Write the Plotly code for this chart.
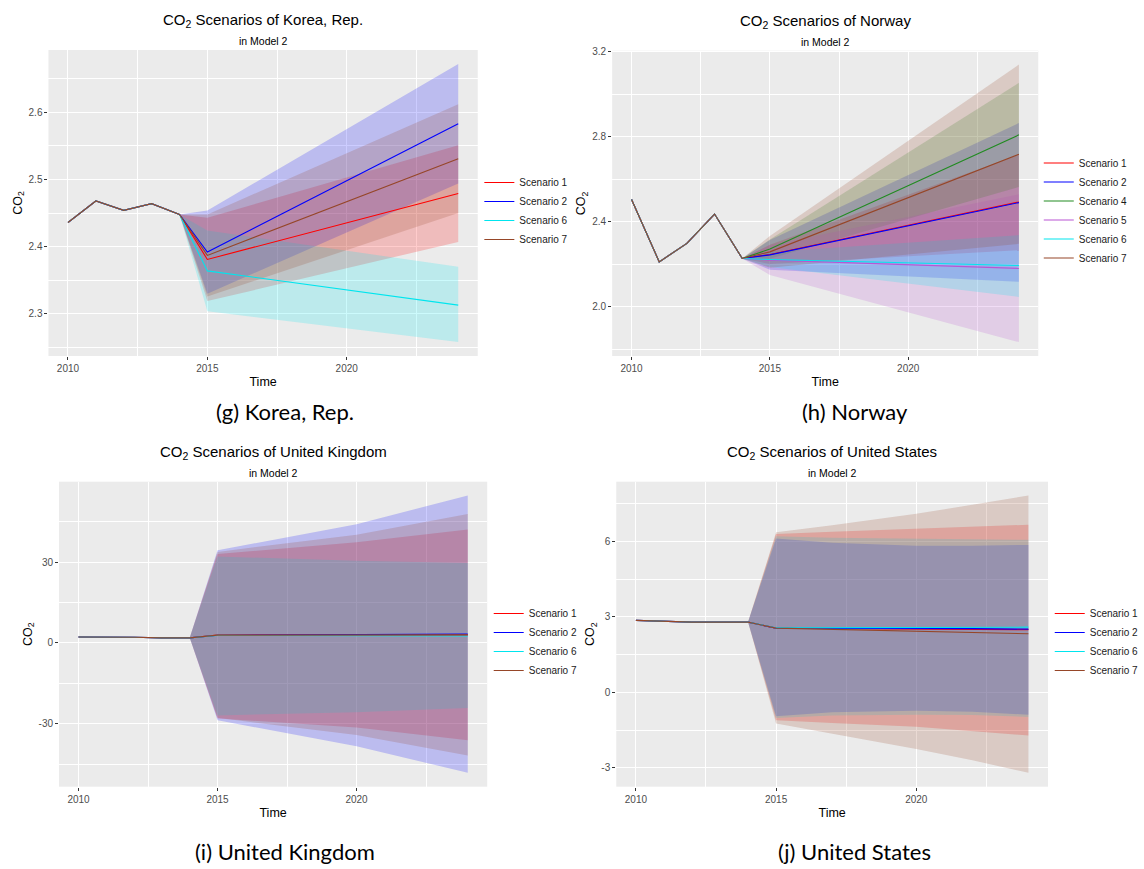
import plotly.graph_objects as go

W, H = 1144, 869
FONT = "Liberation Sans, Arial, sans-serif"
CAP_FONT = "Lato, Open Sans, sans-serif"

hist_years = [2010, 2011, 2012, 2013, 2014]

# ---------------- Korea, Rep. ----------------
kor_hist = [2.436, 2.468, 2.454, 2.464, 2.448]
kor_fc_years = [2015, 2024]
kor_s1_mean = [2.381, 2.479]; kor_s1_lo = [2.319, 2.407]; kor_s1_hi = [2.443, 2.551]
kor_s2_mean = [2.392, 2.583]; kor_s2_lo = [2.330, 2.494]; kor_s2_hi = [2.454, 2.672]
kor_s6_mean = [2.364, 2.313]; kor_s6_lo = [2.304, 2.258]; kor_s6_hi = [2.424, 2.370]
kor_s7_mean = [2.387, 2.531]; kor_s7_lo = [2.326, 2.450]; kor_s7_hi = [2.448, 2.612]
kor_yticks = [2.3, 2.4, 2.5, 2.6]
kor_ylabels = ["2.3", "2.4", "2.5", "2.6"]

# ---------------- Norway ----------------
nor_hist = [2.505, 2.211, 2.298, 2.436, 2.227]
nor_fc_years = [2015, 2024]
nor_s1_mean = [2.246, 2.493]; nor_s1_lo = [2.201, 2.266]; nor_s1_hi = [2.291, 2.716]
nor_s2_mean = [2.244, 2.490]; nor_s2_lo = [2.174, 2.117]; nor_s2_hi = [2.314, 2.865]
nor_s4_mean = [2.271, 2.809]; nor_s4_lo = [2.226, 2.564]; nor_s4_hi = [2.316, 3.054]
nor_s5_mean = [2.219, 2.180]; nor_s5_lo = [2.149, 1.833]; nor_s5_hi = [2.289, 2.529]
nor_s6_mean = [2.222, 2.194]; nor_s6_lo = [2.187, 2.046]; nor_s6_hi = [2.257, 2.337]
nor_s7_mean = [2.258, 2.718]; nor_s7_lo = [2.183, 2.296]; nor_s7_hi = [2.333, 3.140]
nor_yticks = [2.0, 2.4, 2.8, 3.2]
nor_ylabels = ["2.0", "2.4", "2.8", "3.2"]

# ---------------- United Kingdom ----------------
gbr_hist = [2.2, 2.2, 2.1, 1.9, 1.9]
gbr_fc_years = [2015, 2020, 2024]
gbr_s1_mean = [2.9, 3.0, 3.0]; gbr_s1_lo = [-28.0, -31.4, -36.1]; gbr_s1_hi = [33.0, 37.4, 42.1]
gbr_s2_mean = [2.85, 3.1, 3.3]; gbr_s2_lo = [-28.7, -38.3, -48.2]; gbr_s2_hi = [34.4, 44.1, 54.7]
gbr_s6_mean = [2.8, 2.7, 2.6]; gbr_s6_lo = [-26.9, -25.7, -24.1]; gbr_s6_hi = [32.1, 30.5, 29.7]
gbr_s7_mean = [2.9, 3.0, 3.0]; gbr_s7_lo = [-27.8, -34.2, -41.8]; gbr_s7_hi = [33.8, 40.2, 47.9]
gbr_yticks = [-30, 0, 30]
gbr_ylabels = ["-30", "0", "30"]

# ---------------- United States ----------------
usa_hist = [2.86, 2.83, 2.79, 2.79, 2.79]
usa_fc_years = [2015, 2017, 2020, 2022, 2024]
usa_s1_mean = [2.55, 2.54, 2.52, 2.51, 2.49]
usa_s1_lo = [-1.11, -1.22, -1.37, -1.53, -1.72]; usa_s1_hi = [6.29, 6.38, 6.49, 6.57, 6.66]
usa_s2_mean = [2.55, 2.55, 2.54, 2.53, 2.51]
usa_s2_lo = [-0.95, -0.79, -0.73, -0.77, -0.89]; usa_s2_hi = [6.11, 5.94, 5.83, 5.83, 5.86]
usa_s6_mean = [2.56, 2.57, 2.58, 2.59, 2.59]
usa_s6_lo = [-1.02, -0.92, -0.89, -0.90, -0.98]; usa_s6_hi = [6.20, 6.14, 6.11, 6.09, 6.06]
usa_s7_mean = [2.55, 2.50, 2.43, 2.38, 2.33]
usa_s7_lo = [-1.24, -1.63, -2.25, -2.70, -3.20]; usa_s7_hi = [6.36, 6.64, 7.10, 7.45, 7.82]
usa_yticks = [-3, 0, 3, 6]
usa_ylabels = ["-3", "0", "3", "6"]

xticks = [2010, 2015, 2020]
xlabels = ["2010", "2015", "2020"]

COLORS = {
    "Scenario 1": (255, 0, 0),
    "Scenario 2": (0, 0, 255),
    "Scenario 4": (34, 139, 34),
    "Scenario 5": (186, 85, 211),
    "Scenario 6": (0, 229, 238),
    "Scenario 7": (150, 70, 40),
}


def rgba(c, a):
    return f"rgba({c[0]},{c[1]},{c[2]},{a})"


panels = [
    dict(country="Korea, Rep.", caption="(g) Korea, Rep.", hist=kor_hist, fc_years=kor_fc_years,
         sc=[("Scenario 1", kor_s1_mean, kor_s1_lo, kor_s1_hi),
             ("Scenario 2", kor_s2_mean, kor_s2_lo, kor_s2_hi),
             ("Scenario 6", kor_s6_mean, kor_s6_lo, kor_s6_hi),
             ("Scenario 7", kor_s7_mean, kor_s7_lo, kor_s7_hi)],
         yticks=kor_yticks, ylabels=kor_ylabels,
         dom=(48.6, 479, 50, 356), leg=(480.6, 168), cap=(286, 411)),
    dict(country="Norway", caption="(h) Norway", hist=nor_hist, fc_years=nor_fc_years,
         sc=[("Scenario 1", nor_s1_mean, nor_s1_lo, nor_s1_hi),
             ("Scenario 2", nor_s2_mean, nor_s2_lo, nor_s2_hi),
             ("Scenario 4", nor_s4_mean, nor_s4_lo, nor_s4_hi),
             ("Scenario 5", nor_s5_mean, nor_s5_lo, nor_s5_hi),
             ("Scenario 6", nor_s6_mean, nor_s6_lo, nor_s6_hi),
             ("Scenario 7", nor_s7_mean, nor_s7_lo, nor_s7_hi)],
         yticks=nor_yticks, ylabels=nor_ylabels,
         dom=(613.8, 1041, 50.7, 356), leg=(1041.5, 148.5), cap=(857, 411)),
    dict(country="United Kingdom", caption="(i) United Kingdom", hist=gbr_hist, fc_years=gbr_fc_years,
         sc=[("Scenario 1", gbr_s1_mean, gbr_s1_lo, gbr_s1_hi),
             ("Scenario 2", gbr_s2_mean, gbr_s2_lo, gbr_s2_hi),
             ("Scenario 6", gbr_s6_mean, gbr_s6_lo, gbr_s6_hi),
             ("Scenario 7", gbr_s7_mean, gbr_s7_lo, gbr_s7_hi)],
         yticks=gbr_yticks, ylabels=gbr_ylabels,
         dom=(59.2, 488.5, 481.7, 786.7), leg=(490, 599), cap=(286, 851)),
    dict(country="United States", caption="(j) United States", hist=usa_hist, fc_years=usa_fc_years,
         sc=[("Scenario 1", usa_s1_mean, usa_s1_lo, usa_s1_hi),
             ("Scenario 2", usa_s2_mean, usa_s2_lo, usa_s2_hi),
             ("Scenario 6", usa_s6_mean, usa_s6_lo, usa_s6_hi),
             ("Scenario 7", usa_s7_mean, usa_s7_lo, usa_s7_hi)],
         yticks=usa_yticks, ylabels=usa_ylabels,
         dom=(617.9, 1050.8, 481.7, 786.7), leg=(1052.5, 599), cap=(857, 851)),
]


def minor_of(t):
    step = t[1] - t[0]
    vals = [t[0] - step / 2] + [(a + b) / 2 for a, b in zip(t[:-1], t[1:])] + [t[-1] + step / 2]
    return vals


def expand(lo, hi, f=0.05):
    d = hi - lo
    return [lo - f * d, hi + f * d]


fig = go.Figure()
annotations = []

for i, p in enumerate(panels):
    n = i + 1
    sfx = "" if n == 1 else str(n)
    xa, ya, lg = "x" + sfx, "y" + sfx, "legend" + sfx
    last = p["hist"][-1]
    bx = [hist_years[-1]] + p["fc_years"]
    # ribbons
    for lab, mean, lo, hi in p["sc"]:
        up = [last] + hi
        dn = [last] + lo
        fig.add_trace(go.Scatter(
            x=bx + bx[::-1], y=up + dn[::-1], mode="lines", fill="toself",
            fillcolor=rgba(COLORS[lab], 0.2), line=dict(width=0),
            hoverinfo="skip", showlegend=False, xaxis=xa, yaxis=ya))
    # lines
    for lab, mean, lo, hi in p["sc"]:
        fig.add_trace(go.Scatter(
            x=hist_years + p["fc_years"], y=p["hist"] + mean, mode="lines",
            line=dict(color=rgba(COLORS[lab], 1), width=1.1),
            name=lab, legend=lg, xaxis=xa, yaxis=ya))

    allv = p["hist"] + [v for s in p["sc"] for arr in s[1:] for v in arr]
    yr = expand(min(allv), max(allv))
    xr = expand(min(hist_years), max(p["fc_years"]))
    x0, x1, y0, y1 = p["dom"]
    common = dict(showgrid=True, gridcolor="white", gridwidth=1.1, zeroline=False,
                  showline=False, ticks="outside", ticklen=3, tickwidth=1, tickcolor="#333333",
                  tickfont=dict(size=10, color="#4D4D4D", family=FONT), automargin=False)
    fig.layout["xaxis" + sfx] = dict(
        common, domain=[x0 / W, x1 / W], anchor=ya, range=xr,
        tickmode="array", tickvals=xticks, ticktext=xlabels,
        minor=dict(tickvals=minor_of(xticks), showgrid=True, gridcolor="white", gridwidth=0.55),
        title=dict(text="Time", font=dict(size=12.5, color="black", family=FONT), standoff=4))
    fig.layout["yaxis" + sfx] = dict(
        common, domain=[1 - y1 / H, 1 - y0 / H], anchor=xa, range=yr,
        tickmode="array", tickvals=p["yticks"], ticktext=p["ylabels"],
        minor=dict(tickvals=minor_of(p["yticks"]), showgrid=True, gridcolor="white", gridwidth=0.55),
        title=dict(text="CO<sub>2</sub>", font=dict(size=12.5, color="black", family=FONT), standoff=3))
    lx, ly = p["leg"]
    fig.layout[lg] = dict(x=lx / W, y=1 - ly / H, xanchor="left", yanchor="top",
                          bgcolor="rgba(0,0,0,0)", font=dict(size=10, color="#1A1A1A", family=FONT),
                          tracegroupgap=0, itemwidth=30)
    cx = (x0 + x1) / 2
    annotations.append(dict(x=cx / W, y=1 - (y0 - 29) / H, xref="paper", yref="paper",
                            text="CO<sub>2</sub> Scenarios of " + p["country"], showarrow=False,
                            font=dict(size=15, color="black", family=FONT), xanchor="center", yanchor="middle"))
    annotations.append(dict(x=cx / W, y=1 - (y0 - 9) / H, xref="paper", yref="paper",
                            text="in Model 2", showarrow=False,
                            font=dict(size=10.5, color="black", family=FONT), xanchor="center", yanchor="middle"))
    cxp, cyp = p["cap"]
    annotations.append(dict(x=cxp / W, y=1 - cyp / H, xref="paper", yref="paper",
                            text=p["caption"], showarrow=False,
                            font=dict(size=22, color="black", family=CAP_FONT), xanchor="center", yanchor="middle"))

fig.update_layout(
    width=W, height=H, margin=dict(l=0, r=0, t=0, b=0),
    paper_bgcolor="white", plot_bgcolor="#EBEBEB",
    annotations=annotations, font=dict(family=FONT),
)

fig.write_html("out.html")
